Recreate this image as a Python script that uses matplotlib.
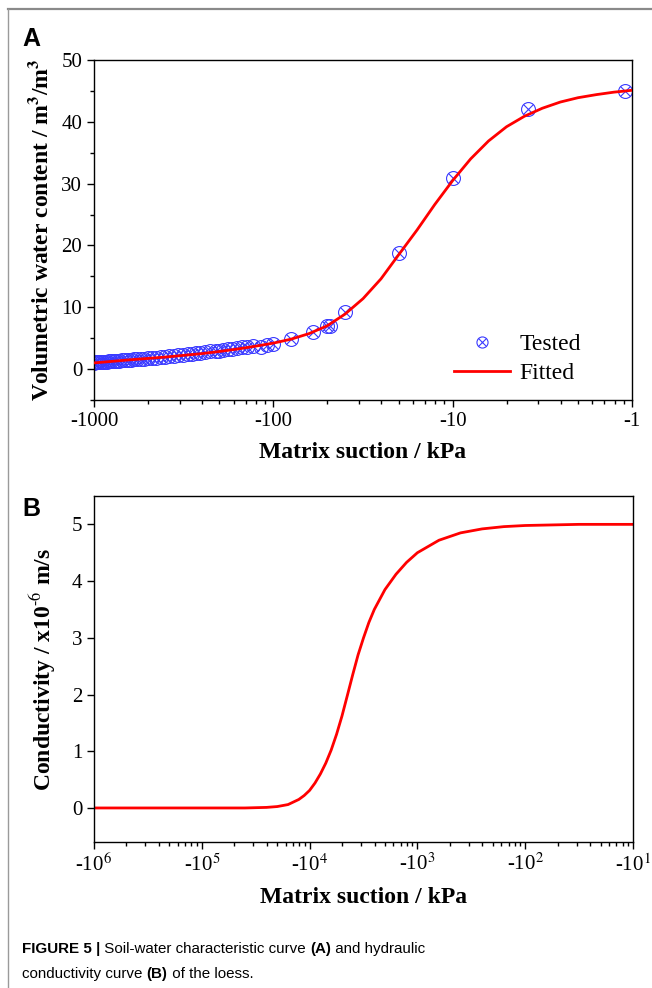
import matplotlib
matplotlib.use("Agg")
import matplotlib.pyplot as plt
import numpy as np
from matplotlib.ticker import LogLocator, FuncFormatter, MultipleLocator, NullFormatter
from matplotlib.legend_handler import HandlerTuple
from matplotlib.lines import Line2D

plt.rcParams['font.family'] = ['Liberation Serif', 'DejaVu Serif']
plt.rcParams['mathtext.fontset'] = 'stix'

# Data ***************************************************************
# (A) soil-water characteristic curve, suction in kPa, water content
tested_suction = [-1000, -975, -950, -925, -900, -875, -850, -825, -800, -775,
                  -750, -725, -700, -675, -650, -625, -600, -575, -550, -525,
                  -500, -475, -450, -425, -400, -380, -360, -340, -320, -300,
                  -285, -270, -255, -240, -225, -210, -200, -190, -180, -170,
                  -160, -150, -140, -130, -117, -108, -100,
                  -80, -60, -50, -48, -40, -20, -10, -3.8, -1.1]
tested_wc = [1.05, 1.07, 1.1, 1.12, 1.15, 1.18, 1.2, 1.23, 1.27, 1.3,
             1.33, 1.37, 1.4, 1.44, 1.48, 1.52, 1.56, 1.6, 1.65, 1.7,
             1.75, 1.8, 1.86, 1.92, 2.0, 2.07, 2.14, 2.22, 2.3, 2.4,
             2.48, 2.56, 2.65, 2.75, 2.85, 2.96, 3.0, 3.1, 3.2, 3.3,
             3.4, 3.5, 3.6, 3.7, 3.6, 3.9, 4.1,
             4.85, 6.0, 7.0, 7.0, 9.2, 18.8, 30.9, 42.1, 45.0]

fit_suction = [-1000, -631, -398, -251, -200, -158, -126, -100, -79.4, -63.1,
               -50.1, -39.8, -31.6, -25.1, -20.0, -15.8, -12.6, -10.0, -7.94,
               -6.31, -5.01, -3.98, -3.16, -2.51, -2.0, -1.58, -1.26, -1.0]
fit_wc = [1.0, 1.5, 1.95, 2.5, 2.85, 3.25, 3.7, 4.2, 4.85, 5.75,
          7.0, 8.9, 11.4, 14.6, 18.5, 22.5, 26.6, 30.5, 34.0,
          36.9, 39.2, 40.9, 42.2, 43.2, 43.9, 44.4, 44.8, 45.1]

# (B) hydraulic conductivity curve, x10^-6 m/s
cond_suction = [-1e6, -1e5, -39800, -25100, -19950, -15850, -12590, -11220,
                -10000, -8910, -7940, -7080, -6310, -5620, -5010, -4470,
                -3980, -3550, -3160, -2820, -2510, -2000, -1580, -1260,
                -1000, -631, -398, -251, -158, -100, -31.6, -10]
cond_k = [0.0, 0.0, 0.0, 0.01, 0.025, 0.06, 0.15, 0.22,
          0.31, 0.44, 0.6, 0.79, 1.02, 1.3, 1.62, 1.98,
          2.35, 2.7, 3.0, 3.27, 3.5, 3.85, 4.12, 4.33,
          4.5, 4.72, 4.85, 4.92, 4.96, 4.98, 5.0, 5.0]

A_ticks = ['-1000', '-100', '-10', '-1']
blue = '#3a3aff'
red = '#ff0000'

def recip(s):
    # axis runs as a log of 1/|suction| so the minor ticks crowd to the right
    return -1.0 / np.asarray(s, dtype=float)

# Figure *************************************************************
fig = plt.figure(figsize=(6.52, 9.88), dpi=100)

bg = fig.add_axes([0, 0, 1, 1])
bg.axis('off')
bg.set_xlim(0, 1)
bg.set_ylim(0, 1)
bg.plot([8 / 652, 1.0], [1 - 9 / 988, 1 - 9 / 988], color='#8a8a8a', lw=1.6)
bg.plot([8 / 652, 8 / 652], [0, 1 - 9 / 988], color='#9a9a9a', lw=1.0)


def style_axes(ax):
    for sp in ax.spines.values():
        sp.set_linewidth(1.0)
    ax.tick_params(which='both', direction='out', top=False, right=False,
                   labelsize=15, width=1.0)
    ax.tick_params(which='major', length=5)
    ax.tick_params(which='minor', length=3)


# Panel A
axA = fig.add_axes([94 / 652, 1 - 400 / 988, 538 / 652, 340 / 988])
axA.plot(recip(fit_suction), fit_wc, color=red, lw=2.0, zorder=3)
c1, = axA.plot(recip(tested_suction), tested_wc, 'o', ms=10, mfc='none',
               mec=blue, mew=0.8, zorder=2)
c2, = axA.plot(recip(tested_suction), tested_wc, 'x', ms=7, mec=blue,
               mew=0.8, zorder=2)
axA.set_xscale('log')
axA.set_xlim(1e-3, 1)
axA.set_ylim(-5, 50)
axA.xaxis.set_major_locator(LogLocator(base=10, numticks=10))
axA.xaxis.set_minor_locator(LogLocator(base=10, subs=np.arange(2, 10), numticks=20))
axA.xaxis.set_major_formatter(FuncFormatter(
    lambda u, p: A_ticks[int(round(np.log10(u))) + 3] if 1e-3 <= u <= 1 else ''))
axA.xaxis.set_minor_formatter(NullFormatter())
axA.yaxis.set_major_locator(MultipleLocator(10))
axA.yaxis.set_minor_locator(MultipleLocator(5))
style_axes(axA)
axA.set_xlabel('Matrix suction / kPa', fontsize=17, fontweight='bold', labelpad=8)
axA.set_ylabel(r'Volumetric water content / m$^{\mathbf{3}}$/m$^{\mathbf{3}}$',
               fontsize=17, fontweight='bold', labelpad=6)
leg_c1 = Line2D([], [], ls='none', marker='o', ms=8, mfc='none', mec=blue, mew=0.8)
leg_c2 = Line2D([], [], ls='none', marker='x', ms=5.5, mec=blue, mew=0.8)
fit_line = Line2D([], [], color=red, lw=2.0)
axA.legend([(leg_c1, leg_c2), fit_line], ['Tested', 'Fitted'],
           handler_map={tuple: HandlerTuple(ndivide=1)},
           loc='lower right', bbox_to_anchor=(0.945, -0.015), frameon=False,
           fontsize=17, handlelength=2.4, handletextpad=0.4, labelspacing=0.3)

# Panel B
axB = fig.add_axes([94 / 652, 1 - 842 / 988, 539 / 652, 346 / 988])
axB.plot(recip(cond_suction), cond_k, color=red, lw=2.0)
axB.set_xscale('log')
axB.set_xlim(1e-6, 1e-1)
axB.set_ylim(-0.6, 5.5)
axB.xaxis.set_major_locator(LogLocator(base=10, numticks=10))
axB.xaxis.set_minor_locator(LogLocator(base=10, subs=np.arange(2, 10), numticks=20))
axB.xaxis.set_major_formatter(FuncFormatter(
    lambda u, p: '-10$^{%d}$' % int(round(-np.log10(u)))))
axB.xaxis.set_minor_formatter(NullFormatter())
axB.yaxis.set_major_locator(MultipleLocator(1))
style_axes(axB)
axB.set_xlabel('Matrix suction / kPa', fontsize=17, fontweight='bold', labelpad=8)
axB.set_ylabel(r'Conductivity / x10$^{\text{-}6}$ m/s', fontsize=17,
               fontweight='bold', labelpad=10)

# Panel letters
bg.text(22 / 652, 1 - 46 / 988, 'A', fontsize=18, fontweight='bold',
        family=['Liberation Sans', 'DejaVu Sans'])
bg.text(22 / 652, 1 - 516 / 988, 'B', fontsize=18, fontweight='bold',
        family=['Liberation Sans', 'DejaVu Sans'])

# Caption
cap_font = ['Liberation Sans', 'DejaVu Sans']


def caption_line(y, parts):
    prev = bg.text(22 / 652, y, parts[0][0], fontsize=10.9, va='bottom',
                   fontweight=parts[0][1], family=cap_font)
    for txt, wt in parts[1:]:
        prev = bg.annotate(txt, xy=(1, 0), xycoords=prev, va='bottom',
                           ha='left', fontsize=10.9, fontweight=wt,
                           family=cap_font)


caption_line(1 - 956 / 988, [('FIGURE 5 |', 'bold'),
                             (' Soil-water characteristic curve ', 'normal'),
                             ('(A)', 'bold'), (' and hydraulic', 'normal')])
caption_line(1 - 981 / 988, [('conductivity curve ', 'normal'), ('(B)', 'bold'),
                             (' of the loess.', 'normal')])

fig.savefig('out.png', dpi=100)
